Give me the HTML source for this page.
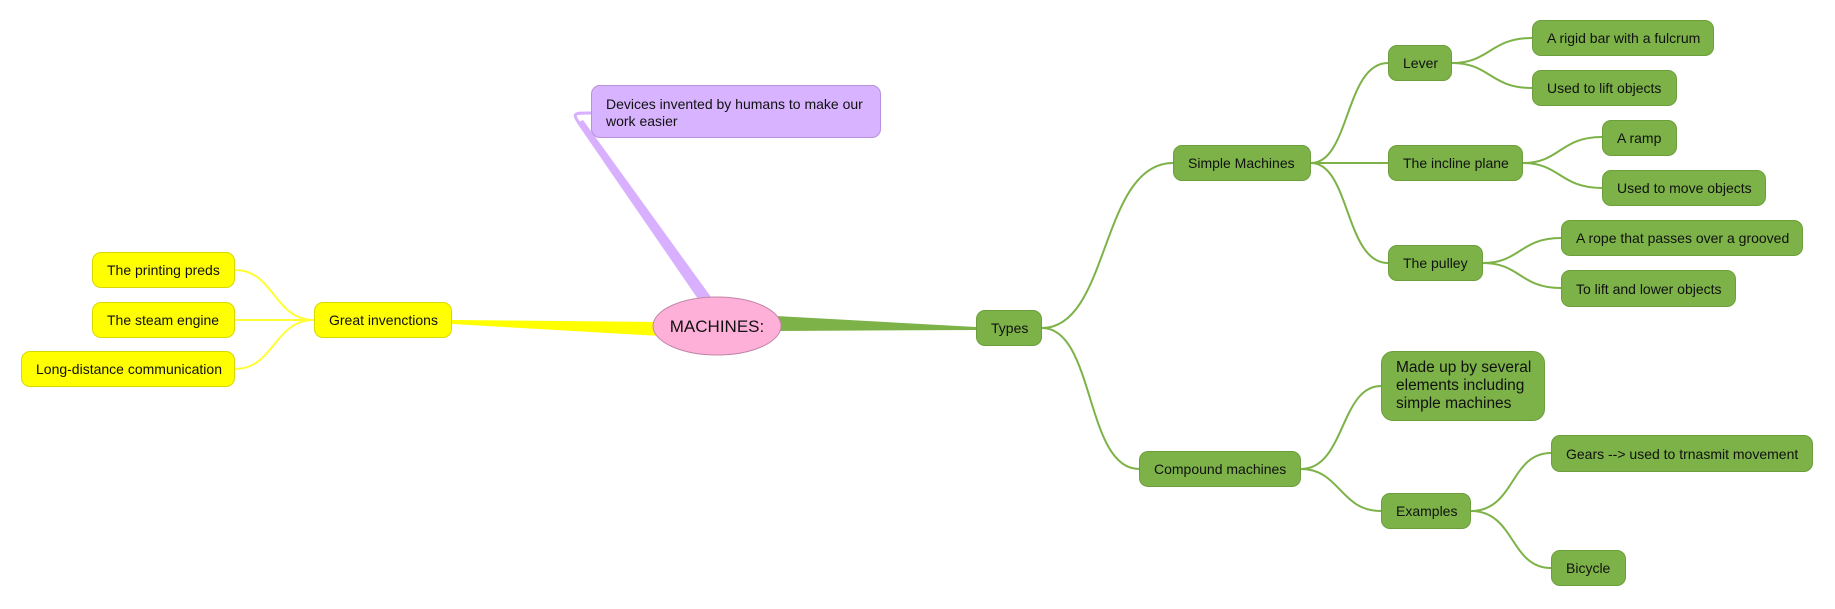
<!DOCTYPE html>
<html><head><meta charset="utf-8"><style>
body{margin:0;width:1835px;height:609px;background:#fff;overflow:hidden;font-family:"Liberation Sans",sans-serif}
svg{position:absolute;left:0;top:0}
.n{position:absolute;box-sizing:border-box;border-radius:9px;font-size:14px;color:#111;display:flex;align-items:center;padding-left:14px;white-space:nowrap}
.g{background:#7cb247;border:1px solid #6c9f3c}
.y{background:#ffff00;border:1px solid #d8d800}
</style></head><body>
<svg width="1835" height="609">
<g fill="none" stroke-width="2">
<g stroke="#ffff33">
<path d="M314 320 C274 320 274 270 235 270"/>
<path d="M314 320 L235 320"/>
<path d="M314 320 C274 320 274 369 235 369"/>
</g>
<g stroke="#7cb247">
<path d="M1042 328 C1110 328 1100 163 1173 163"/>
<path d="M1042 328 C1095 328 1085 469 1139 469"/>
<path d="M1311 163 C1350 163 1345 63 1388 63"/>
<path d="M1311 163 L1388 163"/>
<path d="M1311 163 C1350 163 1345 263 1388 263"/>
<path d="M1452 63 C1490 63 1490 38 1532 38"/>
<path d="M1452 63 C1490 63 1490 88 1532 88"/>
<path d="M1523 163 C1560 163 1560 137 1602 137"/>
<path d="M1523 163 C1560 163 1560 188 1602 188"/>
<path d="M1483 263 C1520 263 1520 238 1561 238"/>
<path d="M1483 263 C1520 263 1520 288 1561 288"/>
<path d="M1301 469 C1345 469 1340 386 1381 386"/>
<path d="M1301 469 C1340 469 1340 511 1381 511"/>
<path d="M1471 511 C1515 511 1510 453 1551 453"/>
<path d="M1471 511 C1515 511 1510 568 1551 568"/>
</g>
</g>
<polygon points="452,320 452,324 660,336 660,322" fill="#ffff00"/>
<polygon points="776,316 776,331 976,330 976,327" fill="#7cb247"/>
<path d="M698 299 L711 297 L583 120 L577 123 Z" fill="#d8b0ff"/>
<path d="M579 123 C572 113 574 113 591 113" fill="none" stroke="#d8b0ff" stroke-width="3"/>
<ellipse cx="717" cy="326" rx="64" ry="29" fill="#ffb0d8" stroke="#c088a8" stroke-width="1"/>
<text x="717" y="332" text-anchor="middle" font-family="Liberation Sans" font-size="17" fill="#111">MACHINES:</text>
</svg>
<div class="n" style="left:591px;top:85px;width:290px;height:53px;background:#d8b3ff;border:1px solid #b890dd;white-space:normal;line-height:17px;font-size:14px;align-items:flex-start;padding-top:10px;padding-right:8px">Devices invented by humans to make our work easier</div>
<div class="n y" style="left:92px;top:252px;width:143px;height:36px">The printing preds</div>
<div class="n y" style="left:92px;top:302px;width:143px;height:36px">The steam engine</div>
<div class="n y" style="left:21px;top:351px;width:214px;height:36px">Long-distance communication</div>
<div class="n y" style="left:314px;top:302px;width:138px;height:36px">Great invenctions</div>
<div class="n g" style="left:976px;top:310px;width:66px;height:36px">Types</div>
<div class="n g" style="left:1173px;top:145px;width:138px;height:36px">Simple Machines</div>
<div class="n g" style="left:1139px;top:451px;width:162px;height:36px">Compound machines</div>
<div class="n g" style="left:1388px;top:45px;width:64px;height:36px">Lever</div>
<div class="n g" style="left:1388px;top:145px;width:135px;height:36px">The incline plane</div>
<div class="n g" style="left:1388px;top:245px;width:95px;height:36px">The pulley</div>
<div class="n g" style="left:1532px;top:20px;width:182px;height:36px">A rigid bar with a fulcrum</div>
<div class="n g" style="left:1532px;top:70px;width:145px;height:36px">Used to lift objects</div>
<div class="n g" style="left:1602px;top:120px;width:75px;height:36px">A ramp</div>
<div class="n g" style="left:1602px;top:170px;width:164px;height:36px">Used to move objects</div>
<div class="n g" style="left:1561px;top:220px;width:242px;height:36px">A rope that passes over a grooved</div>
<div class="n g" style="left:1561px;top:270px;width:175px;height:37px">To lift and lower objects</div>
<div class="n g" style="left:1381px;top:351px;width:164px;height:70px;white-space:normal;line-height:18px;font-size:15.5px;border-radius:12px">Made up by several elements including simple machines</div>
<div class="n g" style="left:1381px;top:493px;width:90px;height:36px">Examples</div>
<div class="n g" style="left:1551px;top:435px;width:262px;height:37px">Gears --&gt; used to trnasmit movement</div>
<div class="n g" style="left:1551px;top:550px;width:75px;height:36px">Bicycle</div>
</body></html>
